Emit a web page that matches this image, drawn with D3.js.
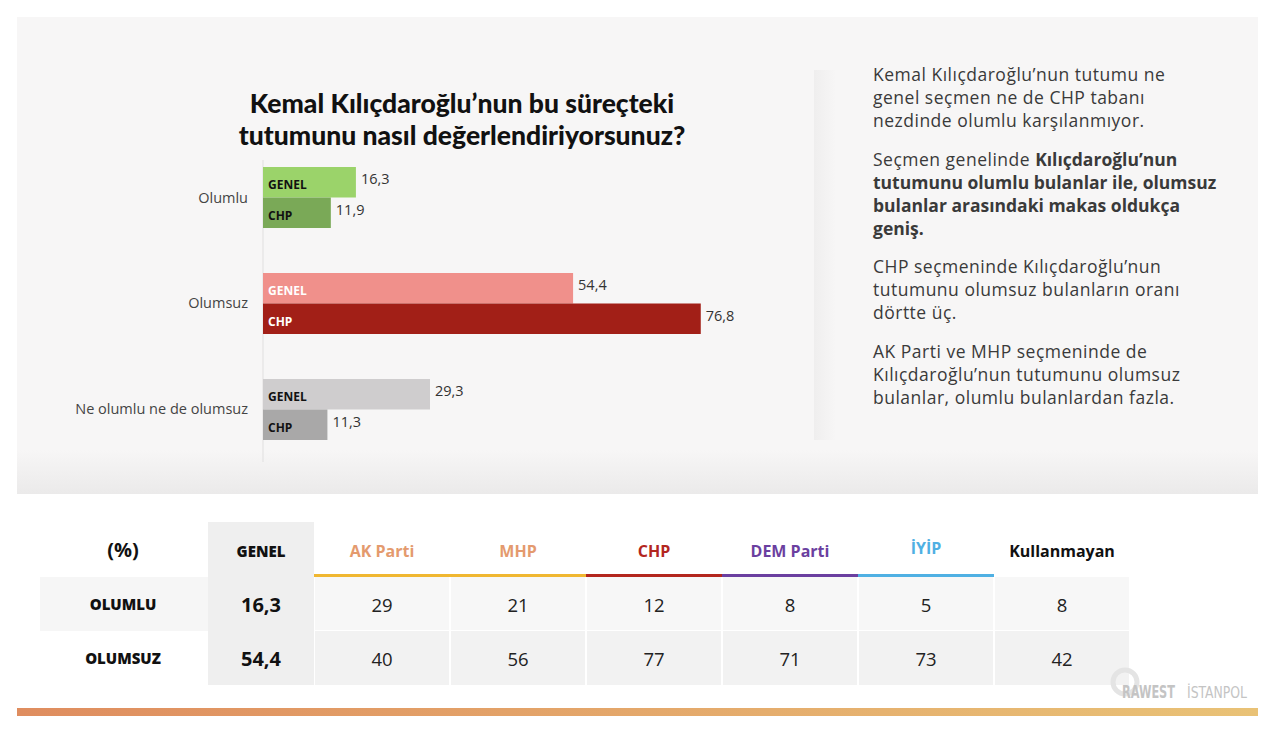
<!DOCTYPE html>
<html>
<head>
    <title>Kılıçdaroğlu</title>
    <script src="https://d3js.org/d3.v7.min.js"></script>
    <style>
        body { margin: 0; background: #fff; }
        svg { display: block; font-family: 'Open Sans', Lato, sans-serif; }
    </style>
</head>
<body>
<div id="chart"></div>
<script>
    // bar chart data
    const categories = ['Olumlu', 'Olumsuz', 'Ne olumlu ne de olumsuz'];
    const seriesNames = ['GENEL', 'CHP'];
    const genelValues = [16.3, 54.4, 29.3];
    const chpValues = [11.9, 76.8, 11.3];

    // table data
    const parties = ['AK Parti', 'MHP', 'CHP', 'DEM Parti', 'İYİP', 'Kullanmayan'];
    const rowLabels = ['OLUMLU', 'OLUMSUZ'];
    const genelRow = ['16,3', '54,4'];
    const olumluRow = [29, 21, 12, 8, 5, 8];
    const olumsuzRow = [40, 56, 77, 71, 73, 42];

    const titleLines = ['Kemal Kılıçdaroğlu’nun bu süreçteki', 'tutumunu nasıl değerlendiriyorsunuz?'];

    const barColors = [
        ['#9bd36a', '#7aa957'],
        ['#f0908b', '#a21f17'],
        ['#cfcdce', '#a9a8a8']
    ];
    const partyText = ['#e49a6e', '#e49a6e', '#b3261e', '#6b3fa0', '#4fb0e3', '#111'];
    const partyLine = ['#f0b731', '#f0b731', '#b3261e', '#6b3fa0', '#4fb0e3', null];

    const W = 1280, H = 745;
    const svg = d3.select('#chart').append('svg')
        .attr('width', W).attr('height', H);

    const defs = svg.append('defs');
    const shade = defs.append('linearGradient').attr('id', 'shade')
        .attr('x1', 0).attr('y1', 0).attr('x2', 0).attr('y2', 1);
    shade.append('stop').attr('offset', '0%').attr('stop-color', '#f7f6f6');
    shade.append('stop').attr('offset', '100%').attr('stop-color', '#ebeaea');
    const sideShade = defs.append('linearGradient').attr('id', 'sideShade')
        .attr('x1', 0).attr('y1', 0).attr('x2', 1).attr('y2', 0);
    sideShade.append('stop').attr('offset', '0%').attr('stop-color', '#efeeee');
    sideShade.append('stop').attr('offset', '100%').attr('stop-color', '#f7f6f6');
    const bottomBar = defs.append('linearGradient').attr('id', 'bottomBar')
        .attr('x1', 0).attr('y1', 0).attr('x2', 1).attr('y2', 0);
    bottomBar.append('stop').attr('offset', '0%').attr('stop-color', '#df8d5f');
    bottomBar.append('stop').attr('offset', '100%').attr('stop-color', '#e9c276');

    // top panel
    svg.append('rect').attr('x', 17).attr('y', 17).attr('width', 1241).attr('height', 477)
        .attr('fill', '#f7f6f6');
    svg.append('rect').attr('x', 17).attr('y', 450).attr('width', 1241).attr('height', 44)
        .attr('fill', 'url(#shade)');
    svg.append('rect').attr('x', 814).attr('y', 70).attr('width', 22).attr('height', 370)
        .attr('fill', 'url(#sideShade)');

    // title, two lines
    svg.selectAll('text.title').data(titleLines).join('text').attr('class', 'title')
        .attr('x', 462).attr('y', (d, i) => 113 + i * 32)
        .attr('text-anchor', 'middle').attr('font-size', 26.5).attr('font-weight', 900)
        .attr('font-family', 'Lato, sans-serif').attr('fill', '#111')
        .text(d => d);

    // bars
    const x = d3.scaleLinear().domain([0, 100]).range([263, 833]);
    const y0 = d3.scaleBand().domain(categories).range([167, 440]).paddingInner(0.4245);
    const y1 = d3.scaleBand().domain(seriesNames).range([0, y0.bandwidth()]);

    svg.append('line').attr('x1', 263).attr('x2', 263).attr('y1', 160).attr('y2', 462)
        .attr('stroke', '#e0dfdf');

    const rows = categories.map((c, i) => ({ cat: c, i: i, vals: [genelValues[i], chpValues[i]] }));
    const grp = svg.selectAll('g.cat').data(rows).join('g').attr('class', 'cat')
        .attr('transform', d => `translate(0,${y0(d.cat)})`);

    grp.append('text')
        .attr('x', 248).attr('y', y0.bandwidth() / 2 + 5)
        .attr('text-anchor', 'end').attr('font-size', 14.5).attr('fill', '#444')
        .text(d => d.cat);

    const bar = grp.selectAll('g.bar')
        .data(d => d.vals.map((v, j) => ({ v: v, s: seriesNames[j], j: j, i: d.i })))
        .join('g').attr('class', 'bar');

    bar.append('rect')
        .attr('x', x(0)).attr('y', d => y1(d.s))
        .attr('width', d => x(d.v) - x(0)).attr('height', y1.bandwidth())
        .attr('fill', d => barColors[d.i][d.j]);

    bar.append('text')
        .attr('x', x(0) + 5).attr('y', d => y1(d.s) + y1.bandwidth() / 2 + 7)
        .attr('font-size', 12).attr('font-weight', 700)
        .attr('fill', d => d.i === 1 ? '#fff' : '#111')
        .text(d => d.s);

    bar.append('text')
        .attr('x', d => x(d.v) + 5).attr('y', d => y1(d.s) + y1.bandwidth() / 2 + 2)
        .attr('font-size', 14.5).attr('fill', '#333')
        .text(d => String(d.v).replace('.', ','));

    // right-hand commentary
    const paras = [
        { y: 81, lines: [[['Kemal Kılıçdaroğlu’nun tutumu ne', 400]], [['genel seçmen ne de CHP tabanı', 400]], [['nezdinde olumlu karşılanmıyor.', 400]]] },
        { y: 166, lines: [[['Seçmen genelinde ', 400], ['Kılıçdaroğlu’nun', 700]], [['tutumunu olumlu bulanlar ile, olumsuz', 700]], [['bulanlar arasındaki makas oldukça', 700]], [['geniş.', 700]]] },
        { y: 273, lines: [[['CHP seçmeninde Kılıçdaroğlu’nun', 400]], [['tutumunu olumsuz bulanların oranı', 400]], [['dörtte üç.', 400]]] },
        { y: 358, lines: [[['AK Parti ve MHP seçmeninde de', 400]], [['Kılıçdaroğlu’nun tutumunu olumsuz', 400]], [['bulanlar, olumlu bulanlardan fazla.', 400]]] }
    ];
    paras.forEach(p => {
        p.lines.forEach((ln, k) => {
            const t = svg.append('text').attr('x', 873).attr('y', p.y + k * 23)
                .attr('font-size', 17.5).attr('fill', '#3a3a3a');
            ln.forEach(seg => t.append('tspan').attr('font-weight', seg[1])
                .attr('letter-spacing', seg[1] === 400 ? 0.5 : 0).text(seg[0]));
        });
    });

    // table
    const colX = d3.scaleBand().domain(parties).range([314, 1130]);
    const rowY = d3.scaleBand().domain(rowLabels).range([577, 685]);

    svg.append('rect').attr('x', 208).attr('y', 522).attr('width', 106).attr('height', 163)
        .attr('fill', '#efefef');
    svg.append('rect').attr('x', 40).attr('y', rowY('OLUMLU')).attr('width', 168).attr('height', rowY.bandwidth())
        .attr('fill', '#f6f6f6');
    rowLabels.forEach((r, ri) => {
        svg.selectAll(null).data(parties).join('rect')
            .attr('x', d => colX(d) + 1).attr('y', rowY(r))
            .attr('width', colX.bandwidth() - 2).attr('height', rowY.bandwidth() - (ri === 0 ? 1 : 0))
            .attr('fill', ri === 0 ? '#f7f7f7' : '#f2f2f2');
    });

    svg.append('text').attr('x', 123).attr('y', 557).attr('text-anchor', 'middle')
        .attr('font-size', 20).attr('font-weight', 700).attr('fill', '#111').text('(%)');
    svg.append('text').attr('x', 261).attr('y', 557).attr('text-anchor', 'middle')
        .attr('font-size', 15).attr('font-weight', 800).attr('fill', '#111').text('GENEL');

    svg.selectAll('text.party').data(parties).join('text').attr('class', 'party')
        .attr('x', d => colX(d) + colX.bandwidth() / 2).attr('y', (d, i) => i === 4 ? 554 : 557)
        .attr('text-anchor', 'middle').attr('font-size', 16).attr('font-weight', 700)
        .attr('fill', (d, i) => partyText[i]).text(d => d);

    svg.selectAll('rect.uline').data(parties.filter((d, i) => partyLine[i])).join('rect').attr('class', 'uline')
        .attr('x', d => colX(d)).attr('y', 574).attr('width', colX.bandwidth()).attr('height', 3)
        .attr('fill', d => partyLine[parties.indexOf(d)]);

    rowLabels.forEach((r, ri) => {
        const cy = rowY(r) + rowY.bandwidth() / 2 + 6;
        svg.append('text').attr('x', 123).attr('y', cy).attr('text-anchor', 'middle')
            .attr('font-size', 15).attr('font-weight', 800).attr('fill', '#111').text(r);
        svg.append('text').attr('x', 261).attr('y', cy + 2).attr('text-anchor', 'middle')
            .attr('font-size', 20).attr('font-weight', 700).attr('fill', '#111').text(genelRow[ri]);
        const vals = ri === 0 ? olumluRow : olumsuzRow;
        svg.selectAll(null).data(vals).join('text')
            .attr('x', (d, i) => colX(parties[i]) + colX.bandwidth() / 2).attr('y', cy + 2)
            .attr('text-anchor', 'middle').attr('font-size', 18.5).attr('fill', '#222')
            .text(d => d);
    });

    // logos
    svg.append('circle').attr('cx', 1125).attr('cy', 682).attr('r', 12)
        .attr('fill', 'none').attr('stroke', '#e4e4e4').attr('stroke-width', 5);
    svg.append('text').attr('x', 1122).attr('y', 698).attr('font-size', 17).attr('font-weight', 700)
        .attr('textLength', 53).attr('lengthAdjust', 'spacingAndGlyphs')
        .attr('fill', '#c4c4c4').attr('font-family', "'DejaVu Sans Condensed', sans-serif").text('RAWEST');
    svg.append('text').attr('x', 1187).attr('y', 698).attr('font-size', 16)
        .attr('textLength', 60).attr('lengthAdjust', 'spacingAndGlyphs')
        .attr('fill', '#c4c4c4').attr('font-family', "'DejaVu Sans Condensed', sans-serif").text('İSTANPOL');

    // bottom band
    svg.append('rect').attr('x', 17).attr('y', 708).attr('width', 1241).attr('height', 8)
        .attr('fill', 'url(#bottomBar)');
</script>
</body>
</html>
